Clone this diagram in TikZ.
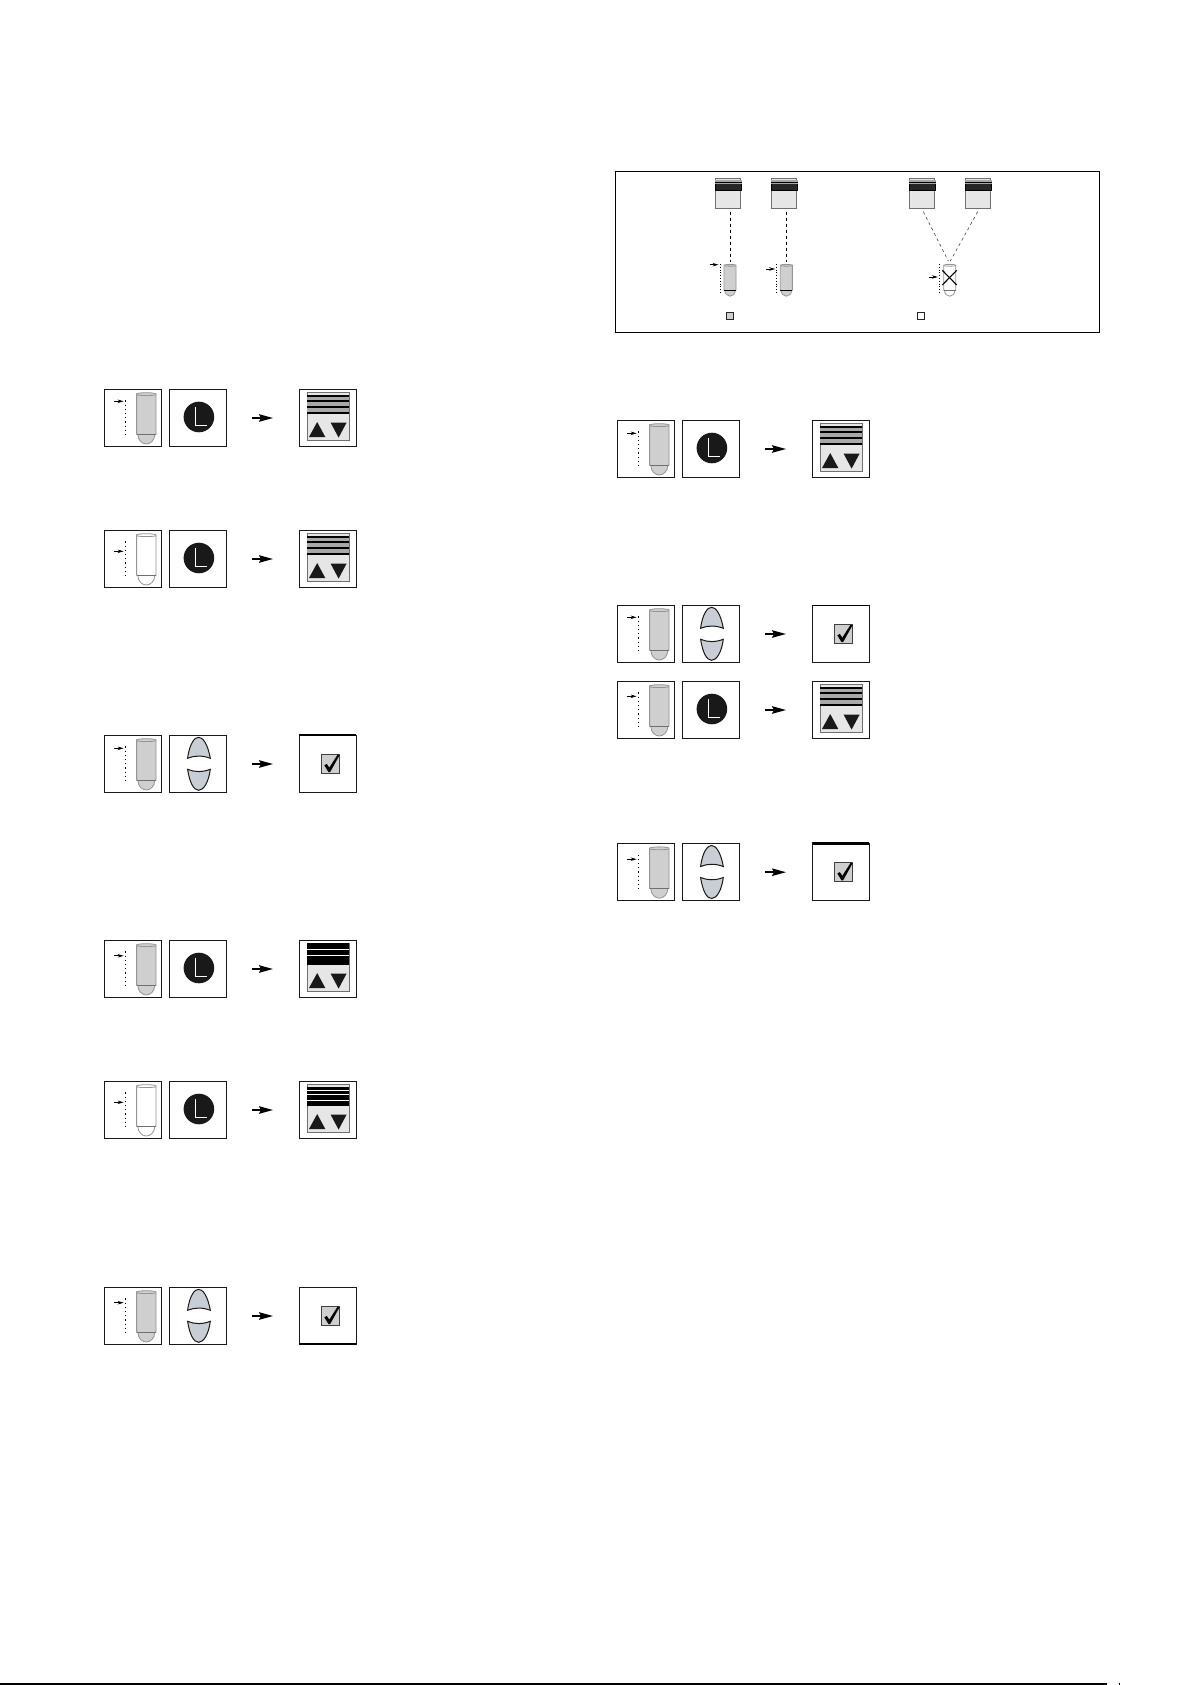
\documentclass[tikz,border=0pt]{standalone}
\usetikzlibrary{arrows.meta}

\definecolor{tubegray}{HTML}{CFCFCF}
\definecolor{lensblue}{HTML}{C9CDD6}
\definecolor{screengray}{HTML}{E6E6E6}
\definecolor{bandgray}{HTML}{A8A8A8}
\definecolor{edgegray}{HTML}{707070}

\tikzset{
  panel/.style={draw=black!90, line width=1.1pt, fill=white},
  tubeline/.style={draw=edgegray!75, line width=0.8pt},
  dots/.style={line width=1.2pt, dash pattern=on 1.2pt off 3pt},
  smallarrow/.style={-{Stealth[length=6pt,width=3.5pt]}, line width=0.8pt},
  bigarrow/.style={-{Stealth[length=14pt,width=7.5pt,inset=2pt]}, line width=1.7pt},
  lens/.style={draw=black!90, line width=1pt, fill=lensblue},
  screen/.style={draw=edgegray, line width=1.3pt, fill=screengray},
  wire/.style={dashed, line width=0.8pt}
}

% fill, colour of the base line
\newcommand{\tube}[2]{
  \filldraw[tubeline, fill=#1] (32.3,45) -- (32.3,4.5) .. controls (36,3) and (48,3) .. (51.7,4.5)
    -- (51.7,45) -- (50.5,45) .. controls (50.5,51) and (46,54.7) .. (42,54.7)
    .. controls (38,54.7) and (33.5,51) .. (33.5,45) -- cycle;
  \draw[tubeline] (32.3,5.5) .. controls (36,6.5) and (48,6.5) .. (51.7,5.5);
  \draw[tubeline, draw=#2] (32.3,45) -- (51.7,45);
}
% fill, height of the small arrow
\newcommand{\tubepanel}[2]{
  \draw[panel] (0,0) rectangle (57,57);
  \tube{#1}{edgegray}
  \draw[dots] (21.3,11) -- (21.3,47.5);
  \draw[smallarrow] (10,#2) -- (19.3,#2);
}
\newcommand{\lamppanel}{
  \draw[panel] (0,0) rectangle (57,57);
  \fill[black!90] (29.3,27.7) circle (15.3);
  \draw[white, line width=1pt] (25.6,17.7) -- (25.6,36) -- (37.3,36);
}
\newcommand{\lenspanel}{
  \draw[panel] (0,0) rectangle (57,57);
  \filldraw[lens] (18,23) .. controls (20,8) and (25,2) .. (29,2) .. controls (33,2) and (38,8) .. (40.7,23)
    .. controls (33,20) and (25,20) .. (18,23) -- cycle;
  \filldraw[lens] (18,34) .. controls (25,37) and (33,37) .. (40.7,34)
    .. controls (39,47) and (34,55) .. (29,55) .. controls (24,55) and (20,47) .. (18,34) -- cycle;
}
% band colour, band top, line colour, line width, lines
\newcommand{\listpanel}[5]{
  \draw[panel] (0,0) rectangle (57,57);
  \filldraw[screen] (8,3) rectangle (50,51.3);
  \fill[#1] (8,#2) rectangle (50,24.3);
  \foreach \b in #5 \draw[#3, line width=#4] (8,\b) -- (50,\b);
  \fill[black!90] (9.7,47.7) -- (17.9,32.7) -- (26,47.7) -- cycle;
  \fill[black!90] (31.3,33.3) -- (47.3,33.3) -- (39.3,48.3) -- cycle;
}
% height and width of the heavy edge
\newcommand{\checkpanel}[2]{
  \draw[panel] (0,0) rectangle (57,57);
  \draw[black, line width=#2] (0,#1) -- (57,#1);
  \filldraw[draw=black!75, fill=tubegray, line width=1pt] (21.7,19.4) rectangle (40,38.4);
  \fill[black] (25,30) -- (27.5,28.6) -- (30,32.3) -- (38.3,19.3) -- (40.2,20) -- (30.8,36.8) -- (29.2,36.8) -- cycle;
}
\newcommand{\rowarrow}{\draw[bigarrow] (148,28.7) -- (168.7,28.7);}

% top band of the small displays
\newcommand{\display}[1]{
  \filldraw[screen, line width=0.9pt] (#1,178.3) rectangle ++(25.5,30);
  \fill[bandgray] (#1,180) rectangle ++(26.5,2);
  \filldraw[draw=black, fill=black!85, line width=0.8pt] (#1,182.5) rectangle ++(26.5,8);
  \draw[bandgray, line width=0.8pt] (#1,183.8) -- ++(26.5,0);
}

\begin{document}
\begin{tikzpicture}[x=1pt, y=-1pt]
  \useasboundingbox (0,0) rectangle (1192,1685);

  % rows that end in the list screen
  \foreach \x/\y/\tubecol/\ay/\bandcol/\bandtop/\barcol/\barw/\bars in {
      104.3/389.3/tubegray/12/bandgray/6.3/black/1.7pt/{6.5,11.7,18,23.5},
      104.3/530.3/white/21/bandgray/6.3/black/1.7pt/{6.5,11.7,18,23.5},
      104.3/940.3/tubegray/15.5/black/3/white/0.5pt/{9,15},
      104.3/1081.3/white/21/black/6/white/0.5pt/{8.5,13,18.5},
      617.3/420.3/tubegray/13/bandgray/6.3/black/1.7pt/{6.5,11.7,18,23.5},
      617.3/681.3/tubegray/15/bandgray/6.3/black/1.7pt/{6.5,11.7,18,23.5}} {
    \begin{scope}[shift={(\x,\y)}]
      \tubepanel{\tubecol}{\ay}
      \begin{scope}[shift={(65.3,0)}] \lamppanel \end{scope}
      \rowarrow
      \begin{scope}[shift={(195,0)}] \listpanel{\bandcol}{\bandtop}{\barcol}{\barw}{\bars} \end{scope}
    \end{scope}
  }

  % rows that end in the tick box
  \foreach \x/\y/\ay/\edge/\edgew in {
      104.3/735.3/13/0/2.2pt,
      104.3/1287.3/15.4/57/2.2pt,
      617.3/605.3/12/0/1.1pt,
      617.3/843.5/15.7/0/2.2pt} {
    \begin{scope}[shift={(\x,\y)}]
      \tubepanel{tubegray}{\ay}
      \begin{scope}[shift={(65.3,0)}] \lenspanel \end{scope}
      \rowarrow
      \begin{scope}[shift={(195,0)}] \checkpanel{\edge}{\edgew} \end{scope}
    \end{scope}
  }

  % framed part at the top right
  \draw[line width=1.1pt] (615.3,171.3) rectangle (1099.7,332.3);
  \display{715.3} \display{771.3} \display{909.3} \display{965.3}

  \coordinate (wireA) at (730.3,211.7); \coordinate (tubeA) at (730.3,262);
  \coordinate (wireB) at (786.3,211.7); \coordinate (tubeB) at (786.3,262);
  \coordinate (wireC) at (923.3,211.7); \coordinate (wireD) at (977.7,211.7);
  \coordinate (tubeC) at (948.3,261); \coordinate (tubeD) at (950.3,261);
  \draw[wire] (wireA) -- (tubeA);
  \draw[wire] (wireB) -- (tubeB);
  \draw[wire, draw=black!75, line width=0.6pt] (wireC) -- (tubeC);
  \draw[wire, draw=black!75, line width=0.6pt] (wireD) -- (tubeD);

  \foreach \x/\tubecol/\basecol in {704/tubegray/black, 760.3/tubegray/black, 923.7/white/edgegray}
    \begin{scope}[shift={(\x,262.3)}, scale=0.62] \tube{\tubecol}{\basecol} \end{scope};
  \foreach \x/\ay in {720/264.7, 776.7/269, 939.3/277} {
    \draw[dots, line width=0.8pt, dash pattern=on 1pt off 1.8pt] (\x,264) -- (\x,294);
    \draw[smallarrow] (\x-10.5,\ay) -- (\x-1.5,\ay);
  }
  \draw[line width=1.1pt] (942.3,270.3) -- (956.7,285);
  \draw[line width=1.1pt] (942.3,285) -- (956.7,270.3);
  \filldraw[draw=black!85, fill=tubegray, line width=0.9pt] (726.3,312) rectangle (733.7,319.7);
  \draw[black!85, line width=0.9pt] (917.3,312) rectangle (924.7,319.7);

  % foot of the page
  \draw[line width=1.5pt] (0,1684.2) -- (1107,1684.2);
  \draw[line width=0.5pt] (1119,1683) -- (1119,1685);
\end{tikzpicture}
\end{document}
